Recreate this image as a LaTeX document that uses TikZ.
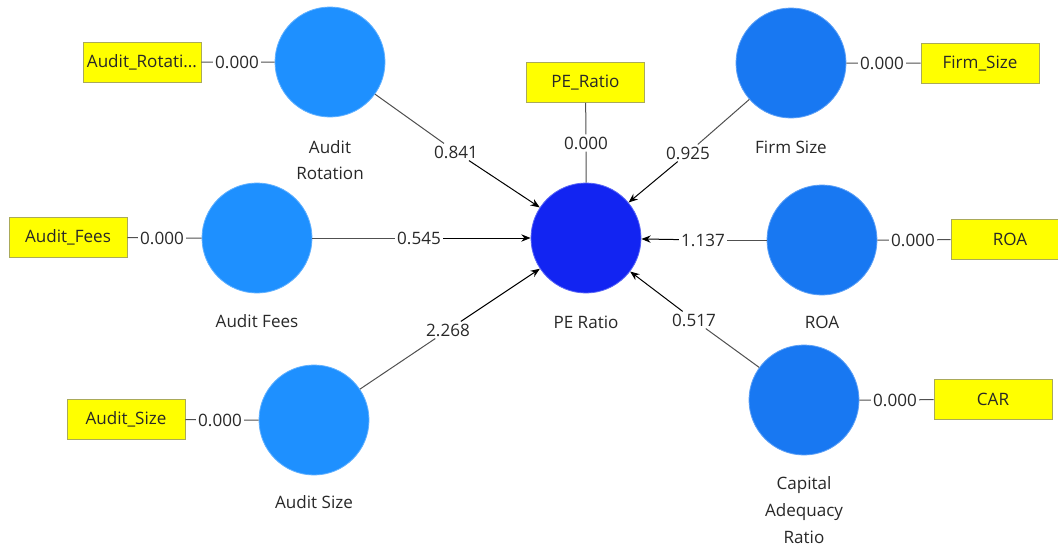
\documentclass[tikz,border=0pt]{standalone}
\usepackage{fontspec}
\setmainfont{Open Sans}
\usetikzlibrary{arrows.meta,positioning}
\definecolor{latentA}{RGB}{30,144,255}
\definecolor{latentB}{RGB}{24,120,242}
\definecolor{latentPE}{RGB}{18,36,242}
\definecolor{itemY}{RGB}{255,255,0}
\definecolor{itemEdge}{RGB}{170,170,90}
\definecolor{txt}{RGB}{40,40,40}
\definecolor{wire}{RGB}{80,80,80}
\tikzset{
  latent/.style={circle, minimum size=82.5pt, inner sep=0pt, fill=#1, draw=#1!70!white, line width=0.6pt},
  indicator/.style={rectangle, fill=itemY, draw=itemEdge, line width=0.6pt, minimum width=88.5pt, minimum height=30pt, inner xsep=1pt, text=txt},
  coef/.style={inner sep=1.5pt, text=txt},
  caption/.style={align=center, text=txt},
  wireline/.style={draw=wire, line width=0.75pt},
  path/.style={wireline, -{Stealth[length=7pt,width=5.5pt]}, black}
}
\begin{document}
\begin{tikzpicture}[x=0.75pt, y=-0.75pt, font=\fontsize{12.8}{20}\selectfont]
  \useasboundingbox (0,0) rectangle (1058,547);
  % Constructs
  \node[latent=latentA] (ar) at (330,62) {};
  \node[latent=latentA] (af) at (257,238) {};
  \node[latent=latentA] (as) at (314,420) {};
  \node[latent=latentPE] (pe) at (586,238) {};
  \node[latent=latentB] (fs) at (791,63) {};
  \node[latent=latentB] (roa) at (822,240) {};
  \node[latent=latentB] (car) at (804,400) {};
  % Construct names
  \node[caption] (arName) at (330,160) {Audit\\Rotation};
  \node[caption] (afName) at (257,321) {Audit Fees};
  \node[caption] (asName) at (314,502) {Audit Size};
  \node[caption] (peName) at (586,322) {PE Ratio};
  \node[caption] (fsName) at (791,147) {Firm Size};
  \node[caption] (roaName) at (822,322) {ROA};
  \node[caption] (carName) at (804,510) {Capital\\Adequacy\\Ratio};
  % Indicators
  \node[indicator] (arBox) at (142,62.5) {Audit\_Rotati...};
  \node[indicator] (afBox) at (68,237) {Audit\_Fees};
  \node[indicator] (asBox) at (126,419) {Audit\_Size};
  \node[indicator] (peBox) at (585.5,82.5) {PE\_Ratio};
  \node[indicator] (fsBox) at (980,63.5) {Firm\_Size};
  \node[indicator] (roaBox) at (1010,239) {ROA};
  \node[indicator] (carBox) at (993,399) {CAR};
  % Outer loadings
  \foreach \c/\b/\x/\y in {ar/arBox/237/62, af/afBox/162/238, as/asBox/220/420,
      fs/fsBox/882/63, roa/roaBox/913/240, car/carBox/895/400} {
    \node[coef] (\c Load) at (\x,\y) {0.000};
    \draw[wireline] (\b) -- (\c Load) -- (\c);
  }
  \node[coef] (peLoad) at (586,143) {0.000};
  \draw[wireline] (peBox) -- (peLoad) -- (pe);
  % Path coefficients
  \foreach \c/\v/\x/\y in {ar/0.841/456/152, af/0.545/419/238, as/2.268/448/330,
      fs/0.925/688/153, roa/1.137/703/240, car/0.517/694/320} {
    \node[coef] (\c Path) at (\x,\y) {\v};
    \draw[wireline] (\c) -- (\c Path);
    \draw[path] (\c Path) -- (pe);
  }
\end{tikzpicture}
\end{document}
